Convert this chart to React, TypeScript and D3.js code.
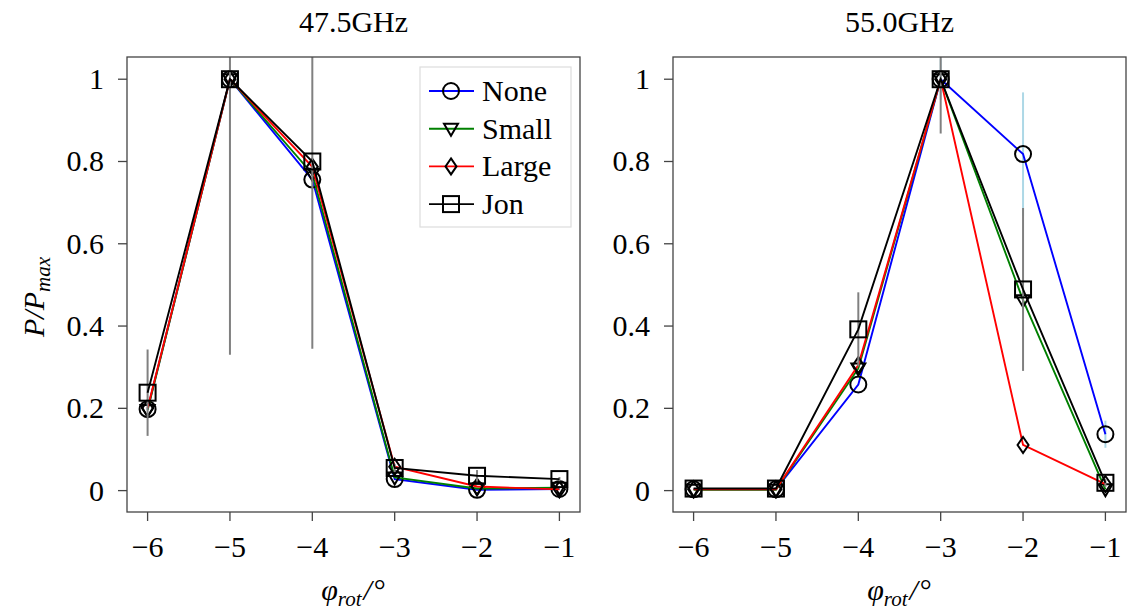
import React from "react";
import * as d3 from "d3";

const xValues = [-6, -5, -4, -3, -2, -1];
const yTicks = [0, 0.2, 0.4, 0.6, 0.8, 1];
const seriesNames = ["None", "Small", "Large", "Jon"];
const seriesColors = ["#0000ff", "#008000", "#ff0000", "#000000"];
const seriesMarkers = ["circle", "triangle", "diamond", "square"];
const panelTitles = ["47.5GHz", "55.0GHz"];

// 47.5 GHz
const left_None = [0.198, 1.0, 0.756, 0.028, 0.002, 0.004];
const left_Small = [0.196, 1.0, 0.77, 0.032, 0.005, 0.007];
const left_Large = [0.2, 1.0, 0.787, 0.058, 0.01, 0.003];
const left_Jon = [0.238, 1.0, 0.8, 0.055, 0.036, 0.028];
const left_NoneErr = [0, 0, 0, 0, 0, 0];
const left_JonErr = [0.105, 0.67, 0.455, 0.01, 0.014, 0.005];

// 55.0 GHz
const right_None = [0.003, 0.003, 0.258, 1.0, 0.818, 0.137];
const right_Small = [0.002, 0.002, 0.297, 1.0, 0.463, 0.003];
const right_Large = [0.003, 0.003, 0.305, 1.0, 0.111, 0.016];
const right_Jon = [0.005, 0.005, 0.392, 1.0, 0.489, 0.019];
const right_NoneErr = [0, 0, 0, 0.05, 0.15, 0.033];
const right_JonErr = [0, 0, 0.09, 0.132, 0.198, 0.01];

const panels = [
  { title: panelTitles[0], series: [left_None, left_Small, left_Large, left_Jon], noneErr: left_NoneErr, jonErr: left_JonErr, x0: 127, legend: true },
  { title: panelTitles[1], series: [right_None, right_Small, right_Large, right_Jon], noneErr: right_NoneErr, jonErr: right_JonErr, x0: 673, legend: false },
];

const W = 453;
const TOP = 57;
const BOTTOM = 512;
const FONT = "'Liberation Serif', 'Times New Roman', serif";

function Marker({ kind, x, y }: { kind: string; x: number; y: number }) {
  const common = { fill: "none", stroke: "#000", strokeWidth: 2 };
  if (kind === "circle") return <circle cx={x} cy={y} r={8} {...common} />;
  if (kind === "square") return <rect x={x - 8} y={y - 8} width={16} height={16} {...common} />;
  if (kind === "triangle")
    return <path d={`M${x - 7},${y - 5} L${x + 7},${y - 5} L${x},${y + 7} Z`} {...common} />;
  return <path d={`M${x},${y - 8} L${x + 5.5},${y} L${x},${y + 8} L${x - 5.5},${y} Z`} {...common} />;
}

function Panel({ p, idx }: { p: any; idx: number }) {
  const x = d3.scaleLinear().domain([-6.25, -0.75]).range([p.x0, p.x0 + W]);
  const y = d3.scaleLinear().domain([-0.052, 1.054]).range([BOTTOM, TOP]);
  const line = d3
    .line<number>()
    .x((_, i) => x(xValues[i]))
    .y((d) => y(d));
  const clipId = `clip${idx}`;
  const cx = p.x0 + W / 2;
  return (
    <g>
      <defs>
        <clipPath id={clipId}>
          <rect x={p.x0} y={TOP} width={W} height={BOTTOM - TOP} />
        </clipPath>
      </defs>
      <text x={cx} y={32} textAnchor="middle" fontSize={30} fontFamily={FONT}>
        {p.title}
      </text>
      <g clipPath={`url(#${clipId})`}>
        {p.series.map((vals: number[], si: number) => {
          const err = si === 0 ? p.noneErr : si === 3 ? p.jonErr : null;
          const errColor = si === 0 ? "#add8e6" : "#808080";
          return (
            <g key={si}>
              {err &&
                vals.map((v, i) =>
                  err[i] > 0 ? (
                    <line
                      key={i}
                      x1={x(xValues[i])}
                      x2={x(xValues[i])}
                      y1={y(v - err[i])}
                      y2={y(v + err[i])}
                      stroke={errColor}
                      strokeWidth={2}
                    />
                  ) : null
                )}
              <path d={line(vals) || ""} fill="none" stroke={seriesColors[si]} strokeWidth={1.9} />
              {vals.map((v, i) => (
                <Marker key={i} kind={seriesMarkers[si]} x={x(xValues[i])} y={y(v)} />
              ))}
            </g>
          );
        })}
      </g>
      <rect x={p.x0} y={TOP} width={W} height={BOTTOM - TOP} fill="none" stroke="#444" strokeWidth={1.3} />
      {xValues.map((t) => (
        <g key={t}>
          <line x1={x(t)} x2={x(t)} y1={BOTTOM} y2={BOTTOM + 9} stroke="#444" strokeWidth={1.3} />
          <text x={x(t)} y={557} textAnchor="middle" fontSize={30} fontFamily={FONT}>
            {"\u2212" + Math.abs(t)}
          </text>
        </g>
      ))}
      {yTicks.map((t) => (
        <g key={t}>
          <line x1={p.x0 - 9} x2={p.x0} y1={y(t)} y2={y(t)} stroke="#444" strokeWidth={1.3} />
          <text x={p.x0 - 23} y={y(t) + 10} textAnchor="end" fontSize={30} fontFamily={FONT}>
            {t === 0 ? "0" : t === 1 ? "1" : t.toFixed(1)}
          </text>
        </g>
      ))}
      <text x={cx} y={600} textAnchor="middle" fontSize={30} fontFamily={FONT} fontStyle="italic">
        {"\u03C6"}
        <tspan fontSize={21} dy={6}>rot</tspan>
        <tspan dy={-6} dx={2}>/</tspan>
        <tspan fontStyle="normal" dx={2}>°</tspan>
      </text>
      {p.legend && (
        <g>
          <rect x={420} y={67} width={151} height={160} fill="#fff" stroke="#ddd" strokeWidth={1.2} />
          {seriesNames.map((n, i) => {
            const ly = 91 + i * 37.7;
            return (
              <g key={n}>
                <line x1={429} x2={474} y1={ly} y2={ly} stroke={seriesColors[i]} strokeWidth={1.9} />
                <Marker kind={seriesMarkers[i]} x={451} y={ly} />
                <text x={482} y={ly + 10} fontSize={30} fontFamily={FONT}>
                  {n}
                </text>
              </g>
            );
          })}
        </g>
      )}
    </g>
  );
}

export default function App() {
  return (
    <svg width={1138} height={616} style={{ position: "absolute", left: 0, top: 0, background: "#fff" }}>
      <rect width={1138} height={616} fill="#fff" />
      {panels.map((p, i) => (
        <Panel key={i} p={p} idx={i} />
      ))}
      <text
        transform="translate(44,297) rotate(-90)"
        textAnchor="middle"
        fontSize={30}
        fontFamily={FONT}
        fontStyle="italic"
      >
        P/P<tspan fontSize={21} dy={6}>max</tspan>
      </text>
    </svg>
  );
}
